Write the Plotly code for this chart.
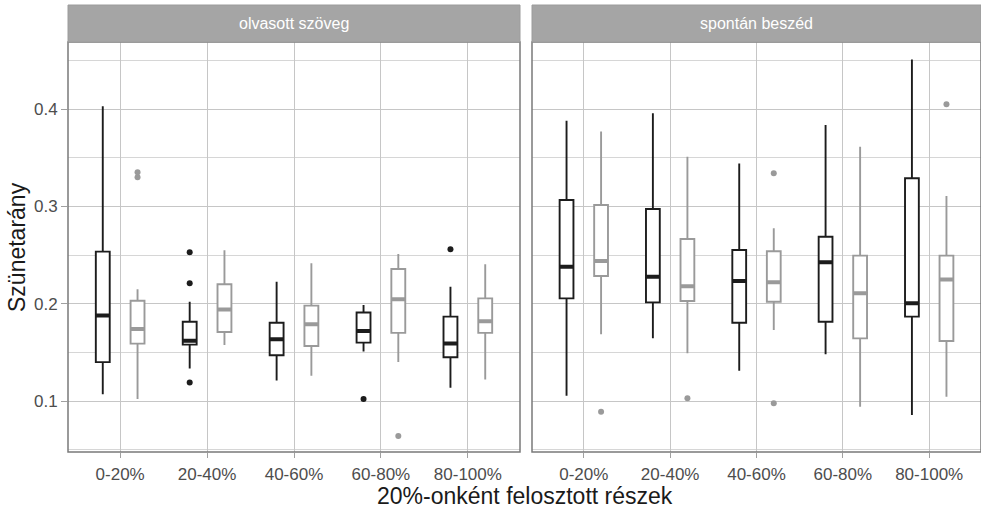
import plotly.graph_objects as go

categories = ["0-20%", "20-40%", "40-60%", "60-80%", "80-100%"]
facets = ["olvasott szöveg", "spontán beszéd"]

# olvasott szöveg - black series
olv_black_lo = [0.107, 0.1335, 0.121, 0.151, 0.1137]
olv_black_q1 = [0.140, 0.158, 0.147, 0.160, 0.145]
olv_black_med = [0.188, 0.162, 0.1634, 0.172, 0.159]
olv_black_q3 = [0.2535, 0.1815, 0.1805, 0.191, 0.1867]
olv_black_hi = [0.403, 0.202, 0.2226, 0.1987, 0.2175]
olv_black_out = [[], [0.253, 0.221, 0.119], [], [0.102], [0.256]]

# olvasott szöveg - gray series
olv_gray_lo = [0.102, 0.1575, 0.126, 0.140, 0.122]
olv_gray_q1 = [0.159, 0.171, 0.1565, 0.170, 0.170]
olv_gray_med = [0.174, 0.194, 0.179, 0.2045, 0.182]
olv_gray_q3 = [0.203, 0.220, 0.198, 0.2357, 0.2055]
olv_gray_hi = [0.215, 0.255, 0.2415, 0.251, 0.2405]
olv_gray_out = [[0.335, 0.330], [], [], [0.064], []]

# spontán beszéd - black series
spo_black_lo = [0.1055, 0.1644, 0.131, 0.148, 0.0856]
spo_black_q1 = [0.2055, 0.2014, 0.1805, 0.1815, 0.1867]
spo_black_med = [0.238, 0.2278, 0.2233, 0.2425, 0.2004]
spo_black_q3 = [0.3066, 0.2973, 0.2552, 0.2689, 0.329]
spo_black_hi = [0.388, 0.3957, 0.344, 0.3837, 0.451]
spo_black_out = [[], [], [], [], []]

# spontán beszéd - gray series
spo_gray_lo = [0.1686, 0.149, 0.173, 0.094, 0.1044]
spo_gray_q1 = [0.2285, 0.2028, 0.202, 0.1644, 0.1617]
spo_gray_med = [0.2439, 0.218, 0.222, 0.2107, 0.225]
spo_gray_q3 = [0.3014, 0.2665, 0.254, 0.2494, 0.2494]
spo_gray_hi = [0.377, 0.351, 0.2775, 0.3614, 0.3107]
spo_gray_out = [[0.089], [0.1028], [0.334, 0.0976], [], [0.405]]

y_ticks = [0.1, 0.2, 0.3, 0.4]

BLACK = "#1c1c1c"
GRAY = "#9a9a9a"
FONT = "Liberation Sans, Arial, sans-serif"

fig = go.Figure()

series = [
    ("x", "y", "A", BLACK, olv_black_lo, olv_black_q1, olv_black_med, olv_black_q3, olv_black_hi, olv_black_out),
    ("x", "y", "B", GRAY, olv_gray_lo, olv_gray_q1, olv_gray_med, olv_gray_q3, olv_gray_hi, olv_gray_out),
    ("x2", "y2", "A", BLACK, spo_black_lo, spo_black_q1, spo_black_med, spo_black_q3, spo_black_hi, spo_black_out),
    ("x2", "y2", "B", GRAY, spo_gray_lo, spo_gray_q1, spo_gray_med, spo_gray_q3, spo_gray_hi, spo_gray_out),
]

for xa, ya, grp, col, lo, q1, med, q3, hi, out in series:
    fig.add_trace(go.Box(
        x=categories, q1=q1, median=med, q3=q3,
        lowerfence=lo, upperfence=hi,
        orientation="v", xaxis=xa, yaxis=ya,
        offsetgroup=grp, alignmentgroup=xa,
        boxpoints=False,
        line=dict(color=col, width=1.9),
        fillcolor="white", whiskerwidth=0,
        showlegend=False, hoverinfo="skip",
    ))
    # thick median bar (ggplot style)
    fig.add_trace(go.Box(
        x=categories, q1=med, median=med, q3=med,
        lowerfence=med, upperfence=med,
        orientation="v", xaxis=xa, yaxis=ya,
        offsetgroup=grp, alignmentgroup=xa,
        boxpoints=False,
        line=dict(color=col, width=4),
        fillcolor="rgba(0,0,0,0)", whiskerwidth=0,
        showlegend=False, hoverinfo="skip",
    ))
    # outliers
    ox = [c for c, vals in zip(categories, out) for _ in vals]
    oy = [v for vals in out for v in vals]
    fig.add_trace(go.Scatter(
        x=ox, y=oy, mode="markers", xaxis=xa, yaxis=ya,
        offsetgroup=grp, alignmentgroup=xa,
        marker=dict(color=col, size=6, line=dict(width=0)),
        showlegend=False, hoverinfo="skip",
    ))

yrange = [0.0476, 0.469]
grid_major = "#c6c6c6"
grid_minor = "#d6d6d6"
TICKFONT = dict(family=FONT, size=17, color="#4d4d4d")

common_x = dict(
    type="category", categoryorder="array", categoryarray=categories,
    range=[-0.6, 4.6], showgrid=True, gridcolor=grid_major, gridwidth=1,
    ticks="outside", ticklen=5, tickcolor="#a0a0a0", tickwidth=1,
    ticklabelstandoff=2,
    tickfont=TICKFONT,
    showline=False, zeroline=False, fixedrange=True,
)
common_y = dict(
    range=yrange, tickvals=y_ticks, ticktext=[str(v) for v in y_ticks],
    showgrid=True, gridcolor=grid_major, gridwidth=1,
    minor=dict(dtick=0.05, tick0=0.05, showgrid=True, gridcolor=grid_minor, gridwidth=1),
    zeroline=False, showline=False, fixedrange=True,
)

W, H = 981, 513
ml, mr, mt, mb = 68, 0, 42, 61
pw = W - ml - mr

fig.update_layout(
    width=W, height=H,
    margin=dict(l=ml, r=mr, t=mt, b=mb, autoexpand=False),
    paper_bgcolor="white", plot_bgcolor="white",
    boxmode="group", boxgap=0.2, boxgroupgap=0.6,
    scattermode="group", scattergap=0.2,
    xaxis=dict(domain=[0, (520 - ml) / pw], anchor="y", **common_x),
    xaxis2=dict(domain=[(532 - ml) / pw, 1.0], anchor="y2", **common_x),
    yaxis=dict(domain=[0, 1], anchor="x", ticks="outside", ticklen=6,
               tickcolor="#a0a0a0", tickfont=TICKFONT, **common_y),
    yaxis2=dict(domain=[0, 1], anchor="x2", matches="y", showticklabels=False, ticks="",
                **common_y),
    font=dict(family=FONT),
)

strip_h = 37 / (H - mt - mb)
shapes = []
annotations = []
for i, (xa, ya) in enumerate([("x", "y"), ("x2", "y2")]):
    shapes.append(dict(type="rect", xref=f"{xa} domain", yref=f"{ya} domain",
                       x0=0, x1=1, y0=0, y1=1, line=dict(color="#7a7a7a", width=1.5),
                       fillcolor="rgba(0,0,0,0)", layer="above"))
    shapes.append(dict(type="rect", xref=f"{xa} domain", yref=f"{ya} domain",
                       x0=0, x1=1, y0=1, y1=1 + strip_h, line=dict(color="#9c9c9c", width=1),
                       fillcolor="#a5a5a5", layer="above"))
    annotations.append(dict(text=facets[i], xref=f"{xa} domain", yref=f"{ya} domain",
                            x=0.5, y=1 + strip_h / 2, showarrow=False,
                            font=dict(family=FONT, size=16, color="white"),
                            xanchor="center", yanchor="middle"))

annotations.append(dict(text="20%-onként felosztott részek", xref="paper", yref="paper",
                        x=0.5, y=0, xanchor="center", yanchor="middle", yshift=-44,
                        showarrow=False,
                        font=dict(family=FONT, size=23, color="#1a1a1a")))
annotations.append(dict(text="Szünetarány", xref="paper", yref="paper",
                        x=0, y=0.5, xanchor="center", yanchor="middle", xshift=-51,
                        textangle=-90, showarrow=False,
                        font=dict(family=FONT, size=23, color="#1a1a1a")))

fig.update_layout(shapes=shapes, annotations=annotations)

fig.write_html("out.html", config={"displayModeBar": False},
               post_script="document.body.style.margin='0';document.body.style.overflow='hidden';")
